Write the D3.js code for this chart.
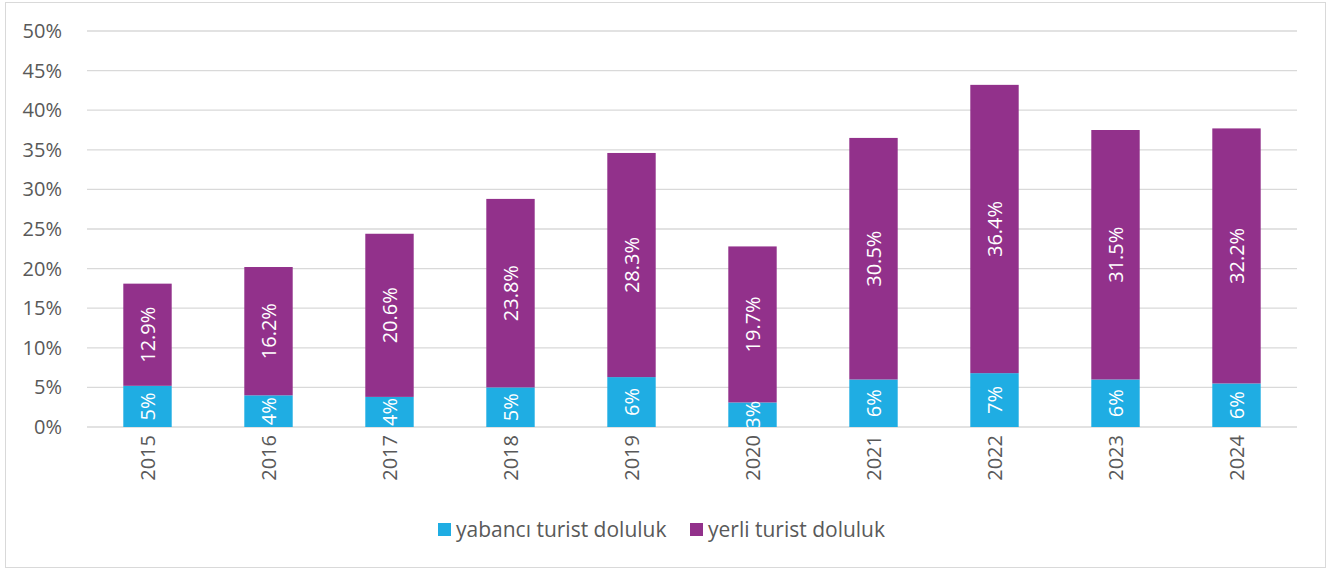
<!DOCTYPE html>
<html>
<head>
<meta charset="utf-8">
<script src="https://cdn.jsdelivr.net/npm/d3@7"></script>
<style>
  body { margin: 0; background: #fff; }
  svg { font-family: "Open Sans", "Noto Sans", sans-serif; }
</style>
</head>
<body>
<svg id="chart" width="1331" height="572"></svg>
<script>
// Data
const years = ["2015", "2016", "2017", "2018", "2019", "2020", "2021", "2022", "2023", "2024"];
const foreign = [5.2, 4.0, 3.8, 5.0, 6.3, 3.1, 6.0, 6.8, 6.0, 5.5];
const domestic = [12.9, 16.2, 20.6, 23.8, 28.3, 19.7, 30.5, 36.4, 31.5, 32.2];
const seriesNames = ["yabancı turist doluluk", "yerli turist doluluk"];
const colors = ["#1fade3", "#92318b"];
const yTicks = [0, 5, 10, 15, 20, 25, 30, 35, 40, 45, 50];

const width = 1331;
const height = 572;
const margin = { top: 31, right: 34, bottom: 145, left: 87 };
const fontSize = 20;

const svg = d3.select("#chart");

// outer frame
svg.append("rect")
  .attr("x", 5.5).attr("y", 2.5)
  .attr("width", 1320).attr("height", 565)
  .attr("fill", "#fff").attr("stroke", "#d9d9d9");

const x = d3.scaleBand()
  .domain(years)
  .range([margin.left, width - margin.right])
  .paddingInner(0.6)
  .paddingOuter(0.3);

const y = d3.scaleLinear()
  .domain([0, 50])
  .range([height - margin.bottom, margin.top]);

// gridlines
svg.append("g")
  .selectAll("line")
  .data(yTicks)
  .join("line")
  .attr("x1", margin.left)
  .attr("x2", width - margin.right)
  .attr("y1", (d) => y(d))
  .attr("y2", (d) => y(d))
  .attr("stroke", "#d9d9d9")
  .attr("stroke-width", 1.3);

// y axis labels
const yAxis = svg.append("g")
  .attr("transform", `translate(${margin.left - 22},0)`)
  .call(d3.axisLeft(y).tickValues(yTicks).tickFormat((d) => d + "%").tickSize(0));
yAxis.select(".domain").remove();
yAxis.selectAll("text")
  .attr("fill", "#595959")
  .attr("font-size", fontSize)
  .attr("font-family", "Open Sans, sans-serif");

// x axis labels (rotated)
const xAxis = svg.append("g")
  .attr("transform", `translate(0,${y(0)})`)
  .call(d3.axisBottom(x).tickSize(0));
xAxis.select(".domain").remove();
xAxis.selectAll("text")
  .attr("fill", "#595959")
  .attr("font-size", fontSize)
  .attr("font-family", "Open Sans, sans-serif")
  .attr("text-anchor", "end")
  .attr("dy", "0.35em")
  .attr("transform", "translate(0,8) rotate(-90)")
  .attr("x", 0)
  .attr("y", 0);

// stack
const rows = years.map((yr, i) => ({ year: yr, a: foreign[i], b: domestic[i] }));
const stack = d3.stack().keys(["a", "b"])(rows);

svg.append("defs").append("clipPath").attr("id", "plot")
  .append("rect")
  .attr("x", margin.left).attr("y", margin.top)
  .attr("width", width - margin.left - margin.right)
  .attr("height", y(0) - margin.top);

const layers = svg.append("g")
  .selectAll("g")
  .data(stack)
  .join("g")
  .attr("fill", (d, i) => colors[i]);

layers.selectAll("rect")
  .data((d) => d)
  .join("rect")
  .attr("x", (d) => x(d.data.year))
  .attr("width", x.bandwidth())
  .attr("y", (d) => y(d[1]))
  .attr("height", (d) => y(d[0]) - y(d[1]));

// value labels
const labels = svg.append("g").attr("clip-path", "url(#plot)");
stack.forEach((layer, li) => {
  labels.selectAll(null)
    .data(layer)
    .join("text")
    .attr("transform", (d) => {
      const cx = x(d.data.year) + x.bandwidth() / 2;
      const cy = y((d[0] + d[1]) / 2);
      return `translate(${cx},${cy}) rotate(-90)`;
    })
    .attr("text-anchor", "middle")
    .attr("dy", "0.35em")
    .attr("fill", "#fff")
    .attr("font-size", fontSize)
    .text((d) => {
      const v = d[1] - d[0];
      return li === 0 ? Math.round(v) + "%" : v.toFixed(1) + "%";
    });
});

// legend
const legend = svg.append("g").attr("transform", "translate(438,530)");
const legendX = [0, 252];
seriesNames.forEach((name, i) => {
  const g = legend.append("g").attr("transform", `translate(${legendX[i]},0)`);
  g.append("rect")
    .attr("x", 0).attr("y", -7)
    .attr("width", 13).attr("height", 13)
    .attr("fill", colors[i]);
  g.append("text")
    .attr("x", 18)
    .attr("dy", "0.35em")
    .attr("fill", "#595959")
    .attr("font-size", 21)
    .text(name);
});
</script>
</body>
</html>
